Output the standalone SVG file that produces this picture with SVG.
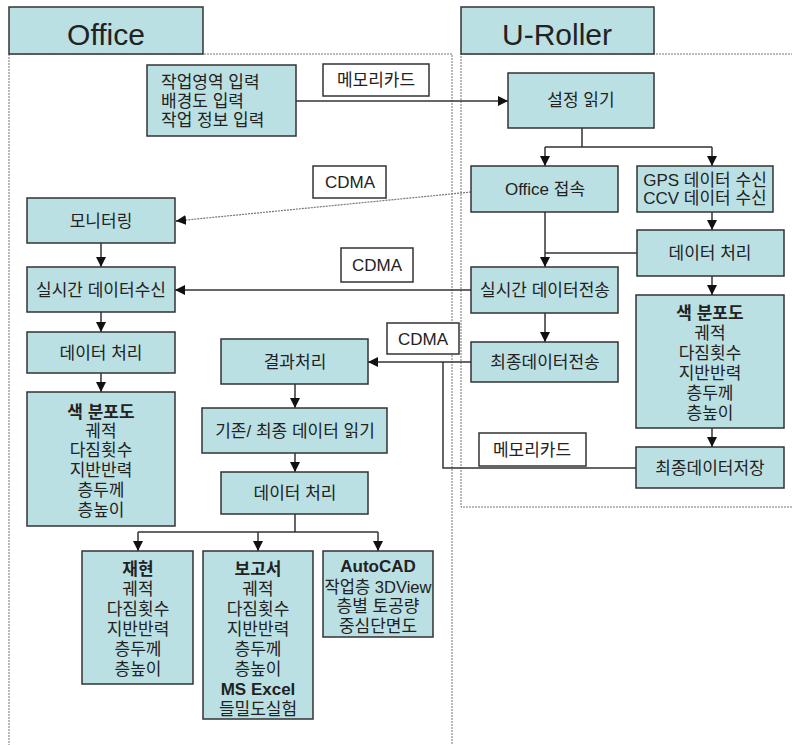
<svg xmlns="http://www.w3.org/2000/svg" width="792" height="745" viewBox="0 0 792 745">
<style>
  .box { fill: #BBE0E3; stroke: #333; stroke-width: 1.5; }
  .lbl { fill: #fff; stroke: #333; stroke-width: 1.5; }
  .frame { fill: none; stroke: #777; stroke-width: 1; stroke-dasharray: 2 1; }
  .t { font-family: "Liberation Sans", "Noto Sans CJK KR", sans-serif; font-size: 17px; fill: #222; text-anchor: middle; dominant-baseline: central; }
  .tl { text-anchor: start; }
  .b { font-weight: bold; }
  .hdr { font-family: "Liberation Sans", "Noto Sans CJK KR", sans-serif; font-size: 30px; fill: #222; text-anchor: middle; }
  .c { fill: none; stroke: #333; stroke-width: 1.5; }
  .cd { fill: none; stroke: #777; stroke-width: 1.2; stroke-dasharray: 2 1; }
</style>
<defs>
  <marker id="ah" markerWidth="10" markerHeight="10" refX="10" refY="5" orient="auto" markerUnits="userSpaceOnUse">
    <path d="M0,0 L10,5 L0,10 z" fill="#111"/>
  </marker>
</defs>
<rect width="792" height="745" fill="#fff"/>

<!-- frames -->
<g id="office-frame">
  <rect class="frame" x="9" y="54" width="443" height="710"/>
  <rect class="box" x="9" y="7" width="194" height="47"/>
  <text class="hdr" x="106" y="45">Office</text>
</g>
<g id="uroller-frame">
  <rect class="frame" x="461" y="54" width="350" height="453"/>
  <rect class="box" x="461" y="7" width="193" height="47"/>
  <text class="hdr" x="557" y="45">U-Roller</text>
</g>

<!-- connectors -->
<g id="connectors">
  <path class="c" d="M296,101 H508" marker-end="url(#ah)"/>
  <path class="c" d="M582,128 V147 M545,147 H712"/>
  <path class="c" d="M545,147 V166" marker-end="url(#ah)"/>
  <path class="c" d="M712,147 V166" marker-end="url(#ah)"/>
  <path class="cd" d="M471,192 L176,221"/>
  <path class="c" d="M186,220 L176,221" stroke="none" marker-end="url(#ah)"/>
  <path class="c" d="M712,212 V230" marker-end="url(#ah)"/>
  <path class="c" d="M712,276 V295" marker-end="url(#ah)"/>
  <path class="c" d="M712,428 V447" marker-end="url(#ah)"/>
  <path class="c" d="M637,253 H545"/>
  <path class="c" d="M545,212 V267" marker-end="url(#ah)"/>
  <path class="c" d="M471,290 H175" marker-end="url(#ah)"/>
  <path class="c" d="M545,313 V342" marker-end="url(#ah)"/>
  <path class="c" d="M471,362 H368" marker-end="url(#ah)"/>
  <path class="c" d="M636,468 H443 V362"/>
  <path class="c" d="M101,243 V267" marker-end="url(#ah)"/>
  <path class="c" d="M101,312 V332" marker-end="url(#ah)"/>
  <path class="c" d="M101,373 V392" marker-end="url(#ah)"/>
  <path class="c" d="M295,384 V408" marker-end="url(#ah)"/>
  <path class="c" d="M295,453 V472" marker-end="url(#ah)"/>
  <path class="c" d="M295,514 V532 M138,532 H378"/>
  <path class="c" d="M138,532 V551" marker-end="url(#ah)"/>
  <path class="c" d="M258,532 V551" marker-end="url(#ah)"/>
  <path class="c" d="M378,532 V551" marker-end="url(#ah)"/>
</g>

<!-- connector labels -->
<g id="label-memcard1"><rect class="lbl" x="323" y="64" width="106" height="32"/><text class="t" x="376" y="80">메모리카드</text></g>
<g id="label-cdma1"><rect class="lbl" x="313" y="166" width="73" height="32"/><text class="t" x="350" y="182">CDMA</text></g>
<g id="label-cdma2"><rect class="lbl" x="341" y="248" width="72" height="34"/><text class="t" x="377" y="265">CDMA</text></g>
<g id="label-cdma3"><rect class="lbl" x="387" y="323" width="72" height="31"/><text class="t" x="423" y="339">CDMA</text></g>
<g id="label-memcard2"><rect class="lbl" x="479" y="433" width="107" height="33"/><text class="t" x="532" y="450">메모리카드</text></g>

<!-- Office nodes -->
<g id="n-input"><rect class="box" x="147" y="65" width="149" height="71"/>
  <text class="t tl" x="161" y="82">작업영역 입력</text>
  <text class="t tl" x="161" y="101">배경도 입력</text>
  <text class="t tl" x="161" y="120">작업 정보 입력</text></g>
<g id="n-monitor"><rect class="box" x="27" y="198" width="148" height="45"/><text class="t" x="101" y="221">모니터링</text></g>
<g id="n-rt-recv"><rect class="box" x="27" y="267" width="148" height="45"/><text class="t" x="101" y="290">실시간 데이터수신</text></g>
<g id="n-of-proc"><rect class="box" x="27" y="332" width="148" height="41"/><text class="t" x="101" y="353">데이터 처리</text></g>
<g id="n-of-color"><rect class="box" x="27" y="392" width="148" height="134"/>
  <text class="t b" x="101" y="412">색 분포도</text>
  <text class="t" x="101" y="431">궤적</text>
  <text class="t" x="101" y="450">다짐횟수</text>
  <text class="t" x="101" y="470">지반반력</text>
  <text class="t" x="101" y="490">층두께</text>
  <text class="t" x="101" y="510">층높이</text></g>
<g id="n-result"><rect class="box" x="221" y="339" width="147" height="45"/><text class="t" x="295" y="362">결과처리</text></g>
<g id="n-read"><rect class="box" x="202" y="408" width="185" height="45"/><text class="t" x="295" y="431">기존/ 최종 데이터 읽기</text></g>
<g id="n-proc2"><rect class="box" x="221" y="472" width="147" height="42"/><text class="t" x="295" y="493">데이터 처리</text></g>
<g id="n-replay"><rect class="box" x="82" y="551" width="111" height="133"/>
  <text class="t b" x="138" y="569">재현</text>
  <text class="t" x="138" y="589">궤적</text>
  <text class="t" x="138" y="609">다짐횟수</text>
  <text class="t" x="138" y="629">지반반력</text>
  <text class="t" x="138" y="649">층두께</text>
  <text class="t" x="138" y="669">층높이</text></g>
<g id="n-report"><rect class="box" x="203" y="551" width="110" height="168"/>
  <text class="t b" x="258" y="569">보고서</text>
  <text class="t" x="258" y="589">궤적</text>
  <text class="t" x="258" y="609">다짐횟수</text>
  <text class="t" x="258" y="629">지반반력</text>
  <text class="t" x="258" y="649">층두께</text>
  <text class="t" x="258" y="669">층높이</text>
  <text class="t b" x="258" y="689">MS Excel</text>
  <text class="t" x="258" y="709">들밀도실험</text></g>
<g id="n-autocad"><rect class="box" x="323" y="551" width="110" height="86"/>
  <text class="t b" x="378" y="566">AutoCAD</text>
  <text class="t" x="378" y="587" textLength="107" lengthAdjust="spacingAndGlyphs">작업층 3DView</text>
  <text class="t" x="378" y="606">층별 토공량</text>
  <text class="t" x="378" y="626">중심단면도</text></g>

<!-- U-Roller nodes -->
<g id="n-setread"><rect class="box" x="508" y="73" width="146" height="55"/><text class="t" x="581" y="100">설정 읽기</text></g>
<g id="n-office-conn"><rect class="box" x="471" y="166" width="147" height="46"/><text class="t" x="545" y="189">Office 접속</text></g>
<g id="n-gps"><rect class="box" x="637" y="166" width="136" height="46"/>
  <text class="t" x="705" y="180">GPS 데이터 수신</text>
  <text class="t" x="705" y="198">CCV 데이터 수신</text></g>
<g id="n-ur-proc"><rect class="box" x="637" y="230" width="147" height="46"/><text class="t" x="710" y="253">데이터 처리</text></g>
<g id="n-rt-send"><rect class="box" x="471" y="267" width="147" height="46"/><text class="t" x="545" y="290">실시간 데이터전송</text></g>
<g id="n-final-send"><rect class="box" x="471" y="342" width="147" height="40"/><text class="t" x="545" y="362">최종데이터전송</text></g>
<g id="n-ur-color"><rect class="box" x="636" y="295" width="148" height="133"/>
  <text class="t b" x="710" y="313">색 분포도</text>
  <text class="t" x="710" y="333">궤적</text>
  <text class="t" x="710" y="353">다짐횟수</text>
  <text class="t" x="710" y="373">지반반력</text>
  <text class="t" x="710" y="393">층두께</text>
  <text class="t" x="710" y="413">층높이</text></g>
<g id="n-final-save"><rect class="box" x="636" y="447" width="148" height="41"/><text class="t" x="710" y="468">최종데이터저장</text></g>
</svg>
